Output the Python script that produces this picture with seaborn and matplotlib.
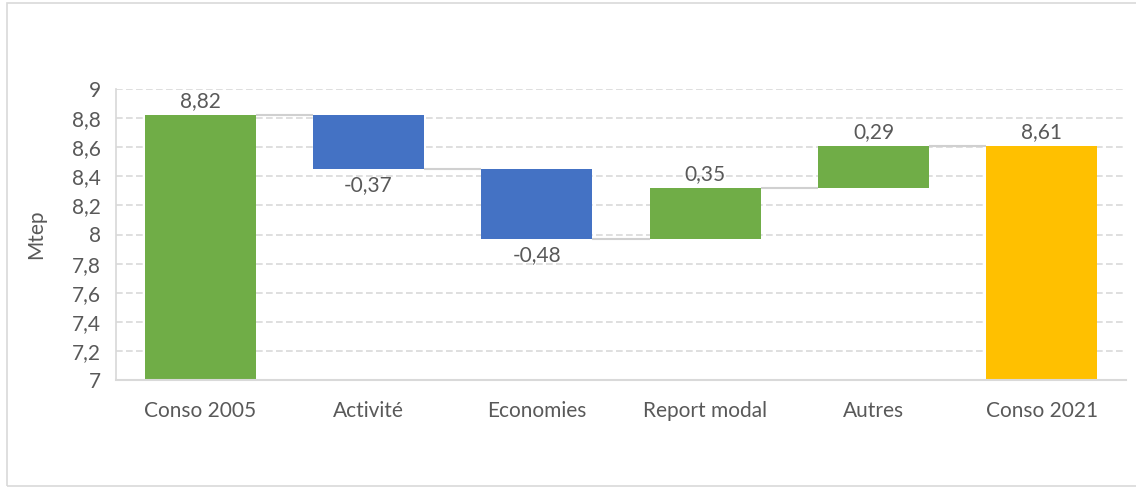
import numpy as np
import pandas as pd
import matplotlib
matplotlib.use("Agg")
import matplotlib.pyplot as plt
import seaborn as sns
from matplotlib.patches import Rectangle

# ---- data ----
categories = ["Conso 2005", "Activité", "Economies", "Report modal", "Autres", "Conso 2021"]
variations = [8.82, -0.37, -0.48, 0.35, 0.29, 8.61]
is_total = [True, False, False, False, False, True]
colors_hex = ["#70AD47", "#4472C4", "#4472C4", "#70AD47", "#70AD47", "#FFC000"]
y_ticks = [7, 7.2, 7.4, 7.6, 7.8, 8, 8.2, 8.4, 8.6, 8.8, 9]

# waterfall geometry derived from data
bases, heights, ends = [], [], []
level = 0.0
for v, tot in zip(variations, is_total):
    if tot:
        bases.append(0.0); heights.append(v); level = v
    else:
        new = level + v
        bases.append(min(level, new)); heights.append(abs(v)); level = new
    ends.append(level)

df = pd.DataFrame({"cat": categories, "h": heights, "b": bases})

sns.set_theme(style="white")
plt.rcParams["font.family"] = ["Lato", "DejaVu Sans"]
txt = "#595959"
fs = 15

fig = plt.figure(figsize=(11.36, 4.87), dpi=100)
ax = fig.add_axes([116/1136, 1-380/487, (1126-116)/1136, (380-89)/487])

width = 0.66
sns.barplot(data=df, x="cat", y="h", bottom=np.array(bases), order=categories,
            width=width, color="#70AD47", ax=ax, zorder=3, linewidth=0)
for p, c in zip(ax.patches, colors_hex):
    p.set_facecolor(c)
    p.set_edgecolor("none")

# connectors
for i in range(len(categories)-1):
    ax.plot([i + width/2, i + 1 - width/2], [ends[i], ends[i]],
            color="#d0d0d0", lw=1.5, zorder=2, solid_capstyle="butt")

# value labels
def fmt(v):
    return f"{v:.2f}".replace(".", ",")
for i, (v, tot) in enumerate(zip(variations, is_total)):
    top = bases[i] + heights[i]
    if tot or v >= 0:
        ax.text(i, top + 0.025, fmt(v), ha="center", va="bottom", fontsize=fs, color=txt)
    else:
        ax.text(i, bases[i] - 0.04, fmt(v), ha="center", va="top", fontsize=fs, color=txt)

ax.set_ylim(7, 9)
ax.set_xlim(-0.5, len(categories) - 0.5)
ax.set_yticks(y_ticks)
ax.set_yticklabels([(f"{t:g}").replace(".", ",") for t in y_ticks], fontsize=fs, color=txt)
ax.tick_params(axis="x", labelsize=fs, labelcolor=txt, pad=15, length=0)
ax.tick_params(axis="y", pad=11, length=0)
ax.set_xlabel("")
ax.set_ylabel("Mtep", fontsize=fs, color=txt)
ax.yaxis.set_label_coords(-70/1010, 0.5)
ax.grid(axis="y", color="#d9d9d9", linestyle=(0, (4, 2)), lw=1.2, zorder=0)
for s in ["top", "right"]:
    ax.spines[s].set_visible(False)
ax.spines["left"].set_color("#d9d9d9")
ax.spines["bottom"].set_color("#d9d9d9")
ax.spines["bottom"].set_linewidth(1.5)
ax.spines["bottom"].set_zorder(4)

# figure border
fig.patches.append(Rectangle((7/1136, 1.5/487), 1.2, 483/487, transform=fig.transFigure,
                             fill=False, edgecolor="#d9d9d9", lw=1.2))

fig.savefig("out.png", dpi=100)
